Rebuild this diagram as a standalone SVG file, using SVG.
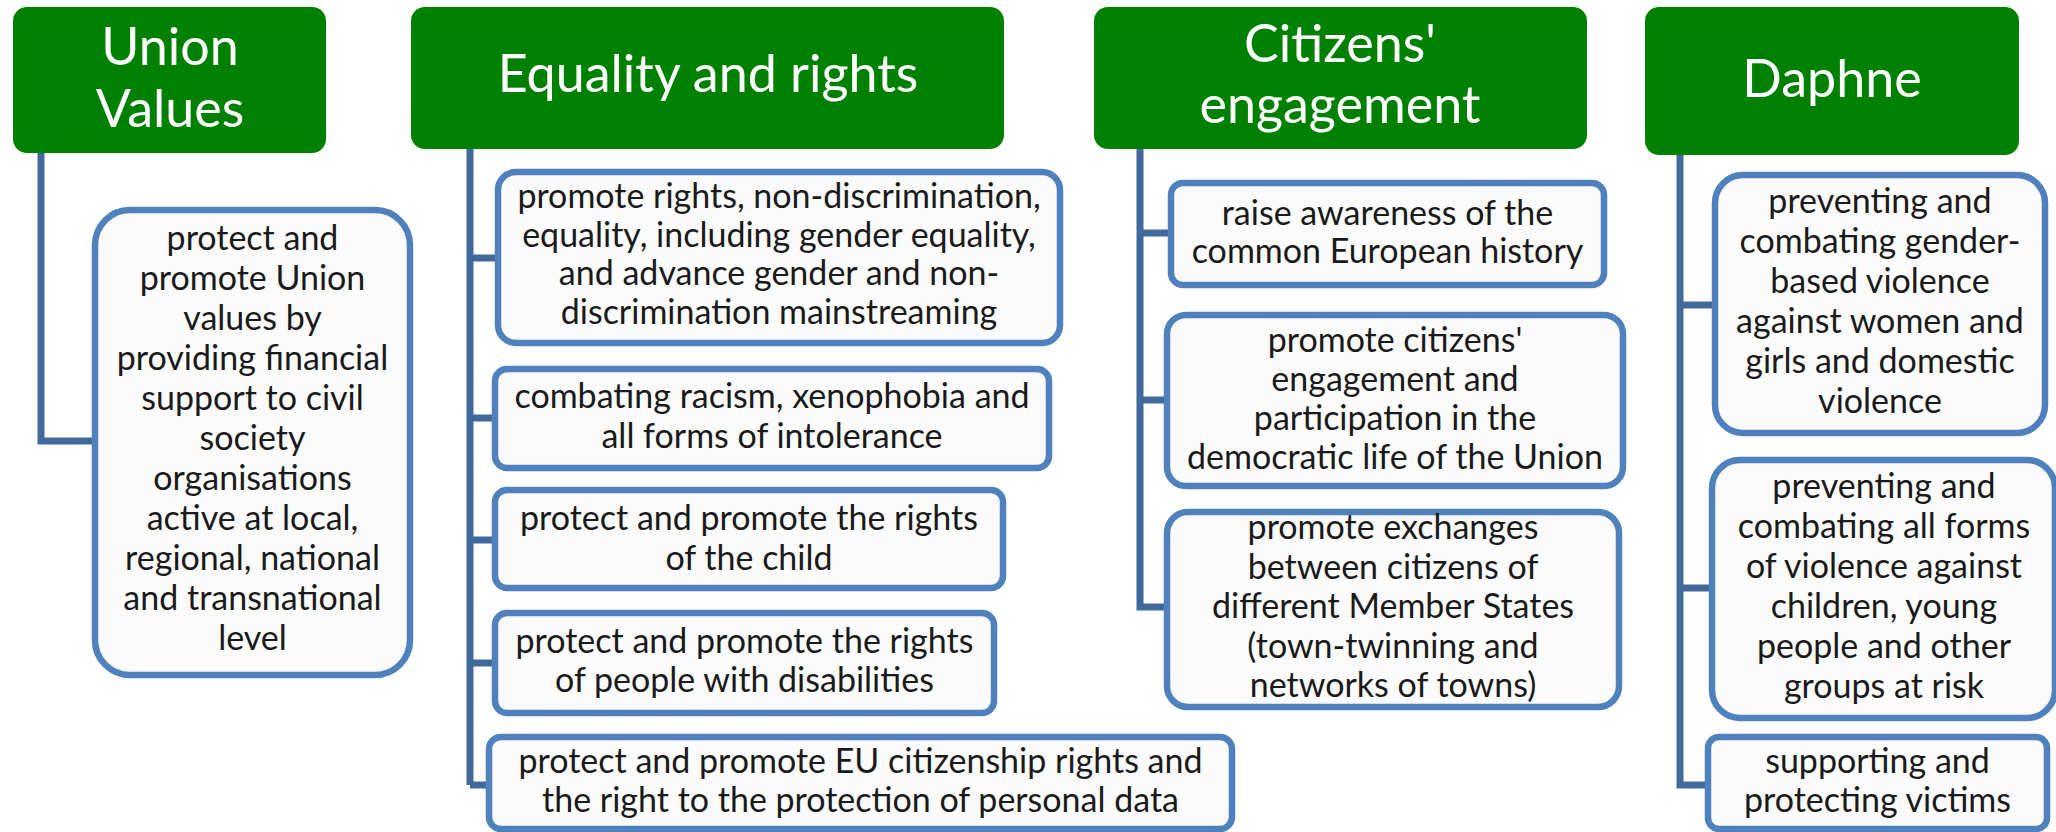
<svg xmlns="http://www.w3.org/2000/svg" width="2056" height="832" viewBox="0 0 2056 832">
<style>
.hdr{fill:#008000;}
.htx{fill:#ffffff;font-family:Lato,"Open Sans",sans-serif;font-size:52px;text-anchor:middle;}
.box{fill:#fbfbfb;stroke:#4f81bd;stroke-width:6.5;}
.btx{fill:#1a1a1a;font-family:Lato,"Open Sans",sans-serif;font-size:34px;text-anchor:middle;}
.con{fill:none;stroke:#41699b;stroke-width:7;stroke-linejoin:miter;stroke-linecap:butt;}
</style>
<rect width="2056" height="832" fill="#ffffff"/>
<g id="connectors">
<path class="con" d="M41,153 V441 H95"/>
<path class="con" d="M470,149 V785 M470,258 H498 M470,418 H495 M470,540 H495 M470,663 H495 M470,785 H489"/>
<path class="con" d="M1140,149 V607 H1167 M1140,233 H1171 M1140,400 H1167"/>
<path class="con" d="M1680,155 V785 H1708 M1680,305 H1715 M1680,588 H1712"/>
</g>
<g id="h-union">
<rect class="hdr" x="13" y="7" width="313" height="146" rx="14"/>
<text class="htx" x="170" y="65">Union</text>
<text class="htx" x="170" y="127">Values</text>
</g>
<g id="h-equality">
<rect class="hdr" x="411" y="7" width="593" height="142" rx="14"/>
<text class="htx" x="708" y="92">Equality and rights</text>
</g>
<g id="h-citizens">
<rect class="hdr" x="1094" y="7" width="493" height="142" rx="14"/>
<text class="htx" x="1340" y="62">Citizens'</text>
<text class="htx" x="1340" y="123">engagement</text>
</g>
<g id="h-daphne">
<rect class="hdr" x="1645" y="7" width="374" height="148" rx="14"/>
<text class="htx" x="1832" y="97">Daphne</text>
</g>
<g id="n-union-1">
<rect class="box" x="95" y="210" width="315" height="465" rx="35"/>
<text class="btx" x="252.5" y="250">protect and</text>
<text class="btx" x="252.5" y="290">promote Union</text>
<text class="btx" x="252.5" y="330">values by</text>
<text class="btx" x="252.5" y="370">providing financial</text>
<text class="btx" x="252.5" y="410">support to civil</text>
<text class="btx" x="252.5" y="450">society</text>
<text class="btx" x="252.5" y="490">organisations</text>
<text class="btx" x="252.5" y="530">active at local,</text>
<text class="btx" x="252.5" y="570">regional, national</text>
<text class="btx" x="252.5" y="610">and transnational</text>
<text class="btx" x="252.5" y="650">level</text>
</g>
<g id="n-eq-1">
<rect class="box" x="498" y="172" width="562" height="171" rx="18"/>
<text class="btx" x="779" y="208">promote rights, non-discrimination,</text>
<text class="btx" x="779" y="246.5">equality, including gender equality,</text>
<text class="btx" x="779" y="285">and advance gender and non-</text>
<text class="btx" x="779" y="323.5">discrimination mainstreaming</text>
</g>
<g id="n-eq-2">
<rect class="box" x="495" y="369" width="554" height="99" rx="12"/>
<text class="btx" x="772" y="408">combating racism, xenophobia and</text>
<text class="btx" x="772" y="448">all forms of intolerance</text>
</g>
<g id="n-eq-3">
<rect class="box" x="495" y="490" width="508" height="98" rx="12"/>
<text class="btx" x="749" y="530">protect and promote the rights</text>
<text class="btx" x="749" y="570">of the child</text>
</g>
<g id="n-eq-4">
<rect class="box" x="495" y="613" width="499" height="100" rx="12"/>
<text class="btx" x="744.5" y="653">protect and promote the rights</text>
<text class="btx" x="744.5" y="692">of people with disabilities</text>
</g>
<g id="n-eq-5">
<rect class="box" x="489" y="737" width="743" height="92" rx="12"/>
<text class="btx" x="860.5" y="773">protect and promote EU citizenship rights and</text>
<text class="btx" x="860.5" y="812">the right to the protection of personal data</text>
</g>
<g id="n-cit-1">
<rect class="box" x="1171" y="183" width="433" height="102" rx="12"/>
<text class="btx" x="1387.5" y="225">raise awareness of the</text>
<text class="btx" x="1387.5" y="263">common European history</text>
</g>
<g id="n-cit-2">
<rect class="box" x="1167" y="315" width="456" height="171" rx="19"/>
<text class="btx" x="1395" y="352">promote citizens'</text>
<text class="btx" x="1395" y="391">engagement and</text>
<text class="btx" x="1395" y="430">participation in the</text>
<text class="btx" x="1395" y="469">democratic life of the Union</text>
</g>
<g id="n-cit-3">
<rect class="box" x="1167" y="512" width="452" height="195" rx="21"/>
<text class="btx" x="1393" y="539">promote exchanges</text>
<text class="btx" x="1393" y="578.5">between citizens of</text>
<text class="btx" x="1393" y="618">different Member States</text>
<text class="btx" x="1393" y="657.5">(town-twinning and</text>
<text class="btx" x="1393" y="697">networks of towns)</text>
</g>
<g id="n-daph-1">
<rect class="box" x="1715" y="175" width="330" height="258" rx="28"/>
<text class="btx" x="1880" y="213">preventing and</text>
<text class="btx" x="1880" y="253">combating gender-</text>
<text class="btx" x="1880" y="293">based violence</text>
<text class="btx" x="1880" y="333">against women and</text>
<text class="btx" x="1880" y="373">girls and domestic</text>
<text class="btx" x="1880" y="413">violence</text>
</g>
<g id="n-daph-2">
<rect class="box" x="1712" y="460" width="343" height="258" rx="28"/>
<text class="btx" x="1884" y="498">preventing and</text>
<text class="btx" x="1884" y="538">combating all forms</text>
<text class="btx" x="1884" y="578">of violence against</text>
<text class="btx" x="1884" y="618">children, young</text>
<text class="btx" x="1884" y="658">people and other</text>
<text class="btx" x="1884" y="698">groups at risk</text>
</g>
<g id="n-daph-3">
<rect class="box" x="1708" y="737" width="339" height="92" rx="11"/>
<text class="btx" x="1877.5" y="773">supporting and</text>
<text class="btx" x="1877.5" y="812">protecting victims</text>
</g>
</svg>
